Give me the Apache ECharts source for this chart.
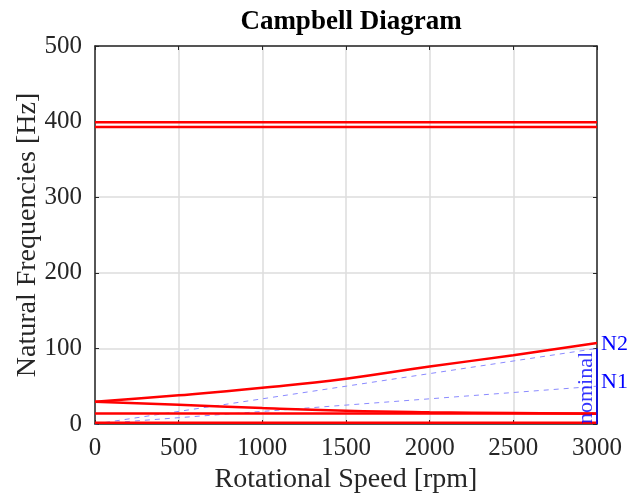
<!DOCTYPE html>
<html>
<head>
<meta charset="utf-8">
<script src="https://cdn.jsdelivr.net/npm/echarts@6/dist/echarts.min.js"></script>
<style>
  html, body { margin: 0; padding: 0; background: #fff; }
  #chart { width: 635px; height: 494px; }
</style>
</head>
<body>
<div id="chart"></div>
<script>
// rotational speed samples [rpm]
var speed = [0, 500, 1000, 1500, 2000, 2500, 3000];
// natural frequencies [Hz]
var forwardMode = [29.5, 38, 48, 60, 76, 91, 107];
var backwardMode = [29.5, 25.5, 21, 17.5, 15.5, 14.5, 13.5];
var flatLow = [14, 14, 14, 14, 14, 14, 14];
var flatZero = [1.5, 1.5, 1.5, 1.5, 1.5, 1.5, 1.5];
var flatHighA = [399, 399, 399, 399, 399, 399, 399];
var flatHighB = [393, 393, 393, 393, 393, 393, 393];
// excitation orders: N1 = 1x, N2 = 2x running speed
var orderSpeed = [0, 3000];
var orderN1 = [0, 50];
var orderN2 = [0, 100];
var nominalSpeed = 3000;
var nominalRange = [0, 100];

var font = 'Liberation Serif';
var chart = echarts.init(document.getElementById('chart'));

function pairs(xs, ys) {
  var out = [];
  for (let i = 0; i < xs.length; i++) {
    out.push([xs[i], ys[i]]);
  }
  return out;
}

function redLine(ys, smooth) {
  return {
    type: 'line',
    data: pairs(speed, ys),
    smooth: smooth,
    symbol: 'none',
    lineStyle: { color: '#ff0000', width: 2.5 },
    z: 3
  };
}

function orderLine(ys, name) {
  return {
    type: 'line',
    data: pairs(orderSpeed, ys),
    symbol: 'none',
    lineStyle: { color: '#8a8aff', width: 1, type: [5, 5] },
    endLabel: {
      show: true,
      formatter: name,
      color: '#0000ff',
      fontFamily: font,
      fontSize: 22,
      offset: [-4, -4]
    },
    z: 2
  };
}

// box axes (top / right) without labels
function boxAxis(pos, max, step) {
  return {
    type: 'value',
    position: pos,
    min: 0,
    max: max,
    interval: step,
    axisLine: { show: true, onZero: false, lineStyle: { color: '#262626', width: 1.5 } },
    axisTick: { show: true, inside: true, length: 4, lineStyle: { color: '#262626' } },
    axisLabel: { show: false },
    splitLine: { show: false }
  };
}

var option = {
  backgroundColor: '#fff',
  animation: false,
  title: {
    text: 'Campbell Diagram',
    left: 346,
    top: 4,
    textAlign: 'center',
    textStyle: { fontFamily: font, fontSize: 27, fontWeight: 'bold', color: '#000' }
  },
  grid: {
    left: 95, right: 38, top: 46, bottom: 70,
    containLabel: false,
    outerBoundsMode: 'none'
  },
  xAxis: [
    {
      type: 'value',
      min: 0,
      max: 3000,
      interval: 500,
      name: 'Rotational Speed [rpm]',
      nameLocation: 'middle',
      nameGap: 42,
      nameMoveOverlap: false,
      nameTextStyle: { fontFamily: font, fontSize: 28, color: '#262626' },
      axisLine: { onZero: false, lineStyle: { color: '#262626', width: 1.5 } },
      axisTick: { inside: true, length: 4, lineStyle: { color: '#262626' } },
      axisLabel: {
        fontFamily: font, fontSize: 25, color: '#262626', margin: 12,
        formatter: function (v) { return String(v); }
      },
      splitLine: { lineStyle: { color: '#dcdcdc', width: 1.5 } }
    },
    boxAxis('top', 3000, 500)
  ],
  yAxis: [
    {
      type: 'value',
      min: 0,
      max: 500,
      interval: 100,
      name: 'Natural Frequencies [Hz]',
      nameLocation: 'middle',
      nameGap: 53,
      nameMoveOverlap: false,
      nameTextStyle: { fontFamily: font, fontSize: 28, color: '#262626' },
      axisLine: { show: true, onZero: false, lineStyle: { color: '#262626', width: 1.5 } },
      axisTick: { show: true, inside: true, length: 4, lineStyle: { color: '#262626' } },
      axisLabel: { fontFamily: font, fontSize: 25, color: '#262626', margin: 13 },
      splitLine: { lineStyle: { color: '#dcdcdc', width: 1.5 } }
    },
    boxAxis('right', 500, 100)
  ],
  series: [
    orderLine(orderN1, 'N1'),
    orderLine(orderN2, 'N2'),
    redLine(flatHighA, false),
    redLine(flatHighB, false),
    redLine(flatZero, false),
    redLine(flatLow, false),
    redLine(backwardMode, true),
    redLine(forwardMode, true),
    {
      type: 'line',
      data: [[nominalSpeed, nominalRange[0]], [nominalSpeed, nominalRange[1]]],
      symbol: 'none',
      lineStyle: { color: '#0000ff', width: 1.5 },
      z: 4
    },
    {
      type: 'scatter',
      data: [[nominalSpeed, nominalRange[0]]],
      symbolSize: 0,
      label: {
        show: true,
        formatter: 'nominal',
        rotate: 90,
        position: [0, 0],
        align: 'left',
        verticalAlign: 'bottom',
        color: '#0000ff',
        fontFamily: font,
        fontSize: 22
      },
      z: 5
    }
  ]
};

chart.setOption(option);
</script>
</body>
</html>
